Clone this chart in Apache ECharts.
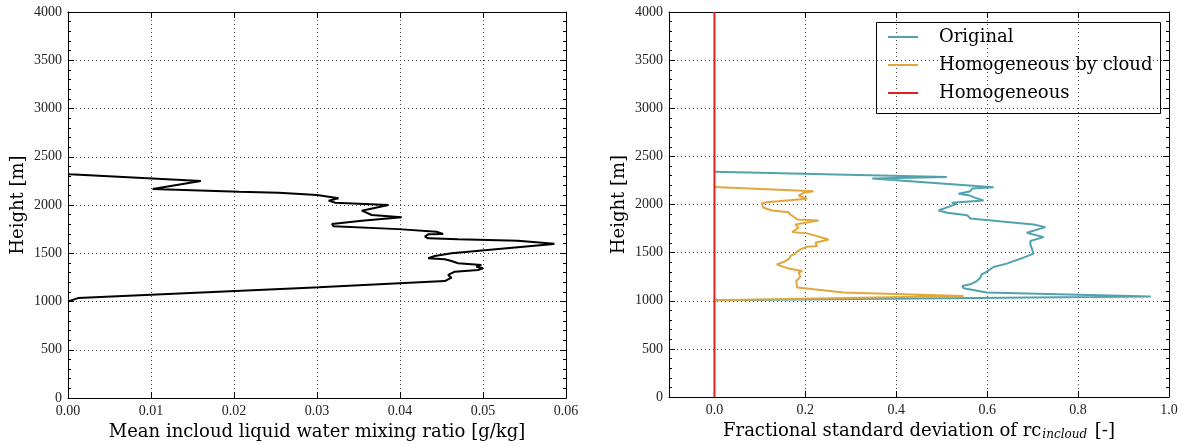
<!DOCTYPE html>
<html><head><meta charset="utf-8">
<script src="https://cdn.jsdelivr.net/npm/echarts@6/dist/echarts.min.js"></script>
<style>html,body{margin:0;padding:0;background:#fff}#c{width:1182px;height:446px}</style>
</head><body><div id="c"></div>
<script>
// ---- data ----
const lwcValues = [0, 0.0012, 0.0290, 0.0302, 0.0454, 0.0462, 0.0458, 0.0466, 0.0494, 0.0500, 0.0492, 0.0498, 0.0470, 0.0462, 0.0454, 0.0434, 0.0432, 0.0442, 0.0462, 0.0582, 0.0586, 0.0542, 0.0470, 0.0434, 0.0430, 0.0434, 0.0452, 0.0444, 0.0398, 0.0320, 0.0318, 0.0354, 0.0402, 0.0366, 0.0354, 0.0386, 0.0322, 0.0314, 0.0326, 0.0300, 0.0298, 0.0254, 0.0206, 0.0102, 0.0160, 0.0002, 0];
const lwcHeights = [1000, 1035, 1143, 1147, 1212, 1247, 1275, 1309, 1326, 1344, 1361, 1378, 1396, 1420, 1437, 1448, 1454, 1472, 1500, 1593, 1599, 1630, 1645, 1655, 1672, 1696, 1700, 1723, 1750, 1780, 1803, 1837, 1873, 1896, 1941, 2000, 2024, 2045, 2069, 2104, 2114, 2128, 2138, 2166, 2249, 2318, 2321];

const origValues = [0, 0.96, 0.599, 0.548, 0.545, 0.563, 0.577, 0.585, 0.588, 0.596, 0.614, 0.643, 0.680, 0.702, 0.695, 0.695, 0.724, 0.687, 0.728, 0.702, 0.563, 0.556, 0.512, 0.493, 0.519, 0.533, 0.522, 0.592, 0.574, 0.559, 0.537, 0.563, 0.567, 0.614, 0.347, 0.511, 0];
const origHeights = [1005, 1045, 1085, 1130, 1153, 1171, 1205, 1240, 1275, 1292, 1351, 1386, 1448, 1489, 1586, 1620, 1661, 1707, 1765, 1793, 1855, 1889, 1914, 1938, 1983, 2007, 2017, 2041, 2069, 2097, 2111, 2138, 2166, 2179, 2269, 2287, 2339];

const homCloudValues = [0, 0.548, 0.284, 0.182, 0.180, 0.189, 0.185, 0.193, 0.163, 0.137, 0.152, 0.165, 0.167, 0.178, 0.189, 0.204, 0.226, 0.222, 0.251, 0.204, 0.171, 0.185, 0.178, 0.229, 0.182, 0.167, 0.163, 0.127, 0.108, 0.104, 0.115, 0.204, 0.185, 0.196, 0.218, 0];
const homCloudHeights = [1005, 1050, 1085, 1137, 1205, 1251, 1292, 1309, 1334, 1378, 1402, 1437, 1464, 1492, 1534, 1562, 1570, 1603, 1637, 1700, 1713, 1759, 1793, 1834, 1845, 1896, 1920, 1938, 1966, 2010, 2024, 2059, 2093, 2121, 2138, 2183];

const homogValues = [0, 0];
const homogHeights = [0, 4000];

const heightTicks = [0, 500, 1000, 1500, 2000, 2500, 3000, 3500, 4000];
const lwcTicks = [0, 0.01, 0.02, 0.03, 0.04, 0.05, 0.06];
const fsdTicks = [0, 0.2, 0.4, 0.6, 0.8, 1.0];

// ---- chart ----
const FONT = 'Liberation Serif';
const TFONT = 'DejaVu Serif';
const pairs = (xs, ys) => xs.map((v, i) => [v, ys[i]]);
const gridStyle = { show: true, lineStyle: { color: '#444', type: [1, 3], width: 1 } };
const axLine = { show: true, onZero: false, lineStyle: { color: '#000', width: 1 } };
const majTick = { show: true, inside: true, length: 6, lineStyle: { color: '#000' } };
const minTick = { show: true, splitNumber: 5, length: 3, lineStyle: { color: '#000' } };
const lblStyle = { fontFamily: FONT, fontSize: 14, color: '#222' };
const nameStyle = { fontFamily: TFONT, fontSize: 18, color: '#000' };

function xAx(grid, min, max, interval, fmt, pos, mirror, extra) {
  return Object.assign({
    type: 'value', gridIndex: grid, min: min, max: max, interval: interval, position: pos,
    axisLine: axLine, axisTick: majTick,
    minorTick: { show: false },
    axisLabel: mirror ? { show: false } : Object.assign({ margin: 6, formatter: fmt, showMinLabel: true, showMaxLabel: true }, lblStyle),
    splitLine: mirror ? { show: false } : gridStyle
  }, extra || {});
}
function yAx(grid, pos, mirror, extra) {
  return Object.assign({
    type: 'value', gridIndex: grid, min: 0, max: 4000, interval: 500, position: pos,
    axisLine: axLine, axisTick: majTick,
    minorTick: Object.assign({}, minTick),
    axisLabel: mirror ? { show: false } : Object.assign({ margin: 6, formatter: v => String(v) }, lblStyle),
    splitLine: mirror ? { show: false } : gridStyle
  }, extra || {});
}

const fsdFmt = v => v.toFixed(1);
const option = {
  backgroundColor: '#fff',
  animation: false,
  grid: [
    { left: 68, top: 12, width: 498, height: 386 },
    { left: 669, top: 12, width: 500, height: 386 }
  ],
  xAxis: [
    xAx(0, 0, 0.06, 0.01, v => v.toFixed(2), 'bottom', false, {
      name: 'Mean incloud liquid water mixing ratio [g/kg]', nameLocation: 'middle', nameGap: 24, nameTextStyle: nameStyle
    }),
    xAx(0, 0, 0.06, 0.01, null, 'top', true),
    xAx(1, -0.1, 1.0, 0.1, fsdFmt, 'bottom', false, {
      name: '{a|Fractional standard deviation of rc}{s|incloud}{a| [-]}', nameLocation: 'middle', nameGap: 24,
      nameTextStyle: Object.assign({}, nameStyle, { rich: { a: { fontFamily: TFONT, fontSize: 18, color: '#000' }, s: { fontFamily: TFONT, fontSize: 12, fontStyle: 'italic', color: '#000', padding: [8, 2, 0, 1] } } }),
      axisTick: Object.assign({}, majTick, { customValues: fsdTicks }),
      axisLabel: Object.assign({ margin: 6, formatter: fsdFmt, customValues: fsdTicks }, lblStyle)
    }),
    xAx(1, -0.1, 1.0, 0.1, null, 'top', true, { axisTick: Object.assign({}, majTick, { customValues: fsdTicks }) })
  ],
  yAxis: [
    yAx(0, 'left', false, { name: 'Height [m]', nameLocation: 'middle', nameGap: 41, nameRotate: 90, nameTextStyle: nameStyle }),
    yAx(0, 'right', true),
    yAx(1, 'left', false, { name: 'Height [m]', nameLocation: 'middle', nameGap: 41, nameRotate: 90, nameTextStyle: nameStyle }),
    yAx(1, 'right', true)
  ],
  legend: {
    orient: 'vertical', left: 888, top: 27, padding: 0,
    icon: 'rect', itemWidth: 30, itemHeight: 2, itemGap: 8,
    textStyle: { fontFamily: TFONT, fontSize: 18, color: '#000', lineHeight: 20, padding: [0, 0, 0, 16] },
    data: ['Original', 'Homogeneous by cloud', 'Homogeneous']
  },
  graphic: [{
    type: 'rect', left: 874, top: 20, z: 100, silent: true,
    shape: { width: 284, height: 91 },
    style: { fill: null, stroke: '#000', lineWidth: 1 }
  }],
  series: [
    { name: 'Mean LWC', type: 'line', xAxisIndex: 0, yAxisIndex: 0, data: pairs(lwcValues, lwcHeights),
      symbol: 'none', lineStyle: { color: '#000', width: 2 }, z: 5 },
    { name: 'Original', type: 'line', xAxisIndex: 2, yAxisIndex: 2, data: pairs(origValues, origHeights),
      symbol: 'none', color: '#52a2ad', lineStyle: { color: '#52a2ad', width: 2 }, z: 5 },
    { name: 'Homogeneous by cloud', type: 'line', xAxisIndex: 2, yAxisIndex: 2, data: pairs(homCloudValues, homCloudHeights),
      symbol: 'none', color: '#e2a73c', lineStyle: { color: '#e2a73c', width: 2 }, z: 6 },
    { name: 'Homogeneous', type: 'line', xAxisIndex: 2, yAxisIndex: 2, data: pairs(homogValues, homogHeights),
      symbol: 'none', color: '#e0201e', lineStyle: { color: '#e0201e', width: 2 }, z: 7 }
  ]
};
const chart = echarts.init(document.getElementById('c'));
chart.setOption(option);
</script></body></html>
